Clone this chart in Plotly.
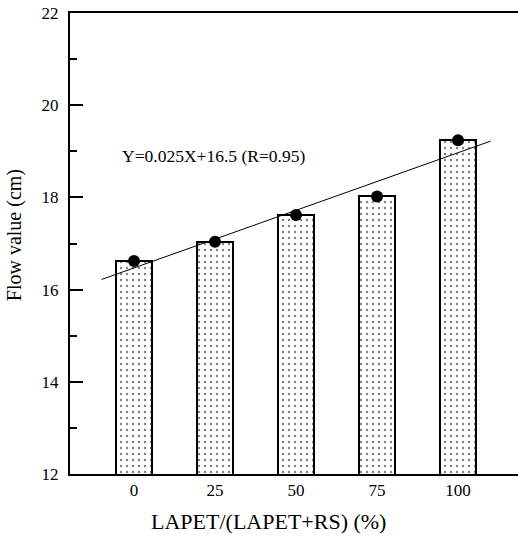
import plotly.graph_objects as go

ratio = [0, 25, 50, 75, 100]
flow = [16.62, 17.04, 17.62, 18.02, 19.24]
fit_x = [-10, 110]
fit_y = [16.22, 19.22]
y_ticks = [12, 14, 16, 18, 20, 22]
equation = "Y=0.025X+16.5 (R=0.95)"
x_title = "LAPET/(LAPET+RS) (%)"
y_title = "Flow value (cm)"

FONT = "Liberation Serif"

fig = go.Figure()
fig.add_trace(go.Bar(
    x=ratio, y=flow, width=11.1,
    marker=dict(color="white", line=dict(color="black", width=2),
                pattern=dict(shape=".", size=6, solidity=0.12,
                             fgcolor="black", bgcolor="white")),
    showlegend=False, hoverinfo="skip"))
fig.add_trace(go.Scatter(
    x=fit_x, y=fit_y, mode="lines",
    line=dict(color="black", width=1), showlegend=False))
fig.add_trace(go.Scatter(
    x=ratio, y=flow, mode="markers",
    marker=dict(color="black", size=12), showlegend=False))

fig.add_annotation(x=24.5, y=18.9, xref="x", yref="y", text=equation,
                   showarrow=False, font=dict(family=FONT, size=17.5, color="black"))
fig.add_annotation(x=0.442, y=-0.102, xref="paper", yref="paper", text=x_title,
                   showarrow=False, xanchor="center", yanchor="middle",
                   font=dict(family=FONT, size=22, color="black"))
fig.add_annotation(x=-0.125, y=0.518, xref="paper", yref="paper", text=y_title,
                   showarrow=False, xanchor="center", yanchor="middle", textangle=-90,
                   font=dict(family=FONT, size=20, color="black"))

fig.update_layout(
    width=518, height=537,
    margin=dict(l=70, r=0, t=13, b=63),
    paper_bgcolor="white", plot_bgcolor="white",
    font=dict(family=FONT, color="black", size=17),
    bargap=0,
)
fig.update_xaxes(
    range=[-19.75, 118.5], tickvals=ratio, ticktext=[str(v) for v in ratio],
    showgrid=False, zeroline=False, showline=True, linecolor="black", linewidth=2,
    mirror=True, ticks="", tickfont=dict(family=FONT, size=17),
)
fig.update_yaxes(
    range=[12, 22], tickvals=y_ticks,
    showgrid=False, zeroline=False, showline=True, linecolor="black", linewidth=2,
    ticks="inside", ticklen=13, tickwidth=2, tickcolor="black",
    minor=dict(dtick=1, ticks="inside", ticklen=7, tickwidth=2, tickcolor="black", showgrid=False),
    tickfont=dict(family=FONT, size=17), ticklabelstandoff=6,
)

fig.write_html("out.html")
